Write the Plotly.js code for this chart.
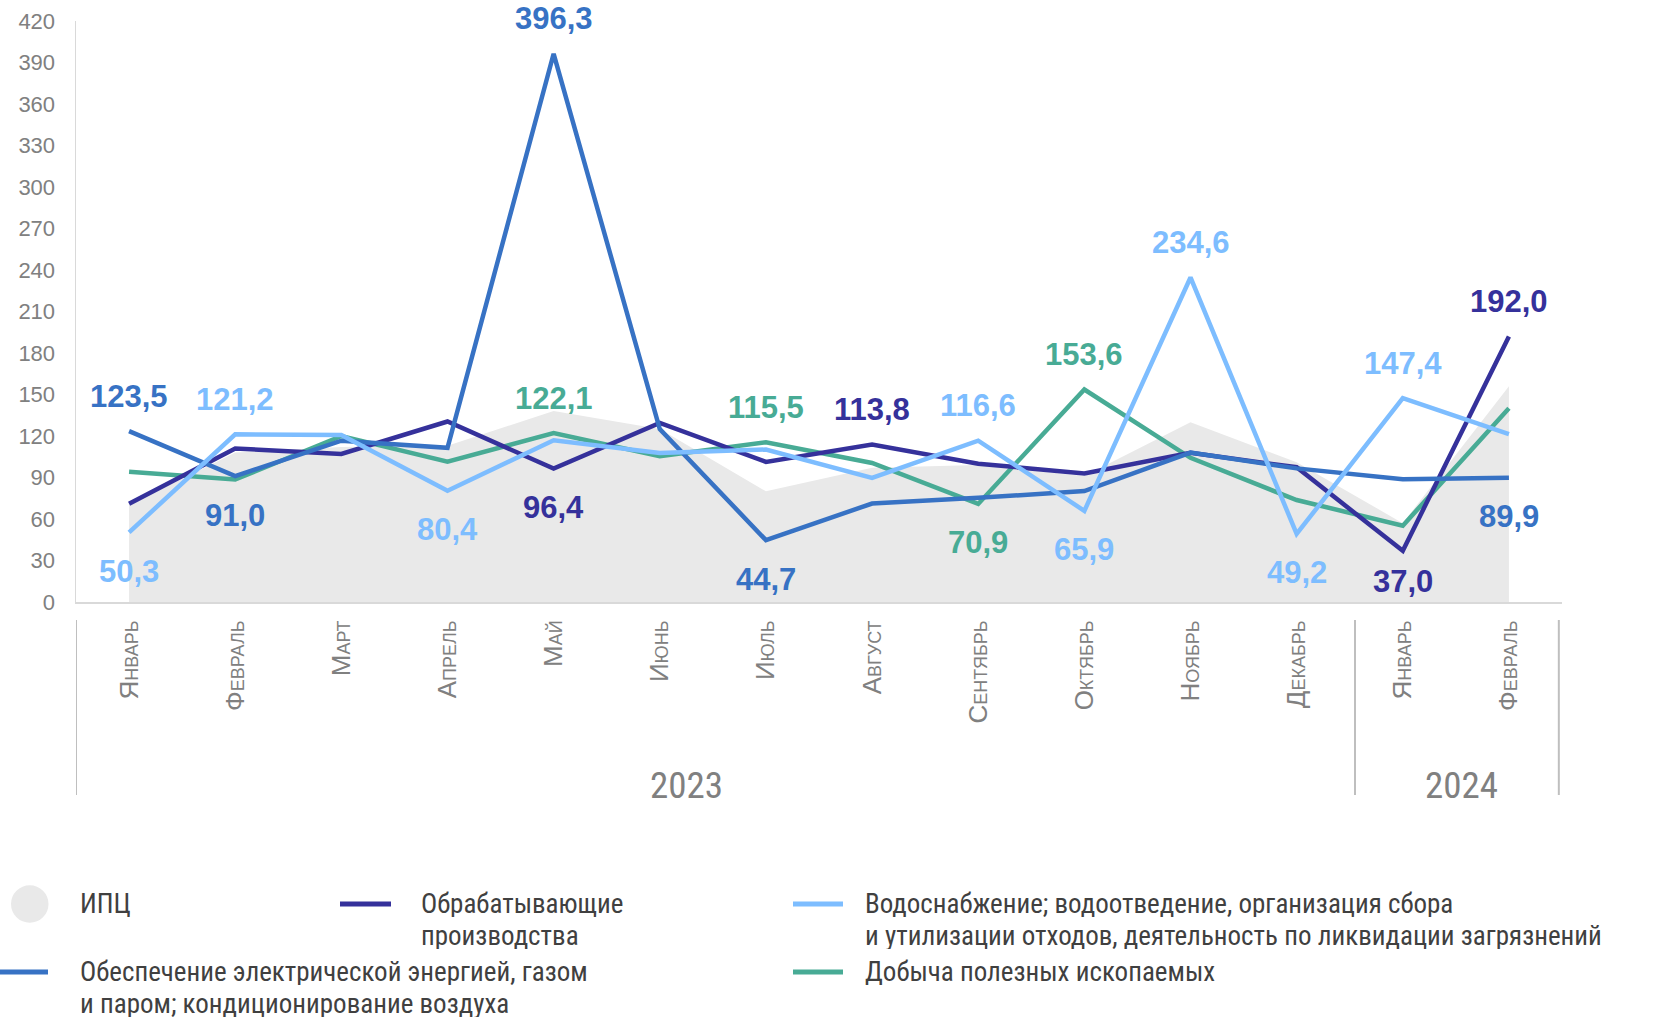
<!DOCTYPE html>
<html>
<head>
<meta charset="utf-8">
<script src="https://cdn.plot.ly/plotly-3.0.1.min.js"></script>
<style>
html,body{margin:0;padding:0;background:#ffffff;}
#chart{width:1657px;height:1021px;}
</style>
</head>
<body>
<div id="chart"></div>
<script>
// ---------- DATA ----------
const months = ['Январь','Февраль','Март','Апрель','Май','Июнь','Июль','Август','Сентябрь','Октябрь','Ноябрь','Декабрь','Январь','Февраль'];
const years = ['2023','2023','2023','2023','2023','2023','2023','2023','2023','2023','2023','2023','2024','2024'];
const yearGroups = ['2023','2024'];

const cpi    = [70, 108, 112, 113, 138, 125, 80, 97, 99, 91, 130, 101, 57, 156];
const manuf  = [71.0, 111.0, 107.0, 130.5, 96.4, 129.4, 101.3, 113.8, 100.0, 92.9, 107.8, 97.4, 37.0, 192.0];
const water  = [50.3, 121.2, 120.7, 80.4, 116.9, 107.8, 110.2, 89.7, 116.6, 65.9, 234.6, 49.2, 147.4, 121.4];
const elec   = [123.5, 91.0, 116.6, 111.5, 396.3, 125.0, 44.7, 71.2, 75.3, 80.2, 108.0, 96.6, 88.7, 89.9];
const mining = [94.2, 88.5, 120.0, 101.4, 122.1, 105.4, 115.5, 100.5, 70.9, 153.6, 104.2, 73.7, 55.2, 140.0];

const seriesNames = {
  cpi: 'ИПЦ',
  manuf: 'Обрабатывающие производства',
  water: 'Водоснабжение; водоотведение, организация сбора и утилизации отходов, деятельность по ликвидации загрязнений',
  elec: 'Обеспечение электрической энергией, газом и паром; кондиционирование воздуха',
  mining: 'Добыча полезных ископаемых'
};

// which points carry a value label ('u' = above, 'd' = below)
const manufLabels  = {4:'d', 7:'u', 12:'d', 13:'u'};
const waterLabels  = {0:'d', 1:'u', 3:'d', 8:'u', 9:'d', 10:'u', 11:'d', 12:'u'};
const elecLabels   = {0:'u', 1:'d', 4:'u', 6:'d', 13:'d'};
const miningLabels = {4:'u', 6:'u', 8:'d', 9:'u'};

// ---------- STYLE ----------
const C = {
  cpi: '#e9e9e9',
  manuf: '#35319b',
  water: '#7dbdff',
  elec: '#3772c4',
  mining: '#48ab95',
  grey: '#808080',
  text: '#404040',
  axis: '#d9d9d9'
};
const FONT = 'Liberation Sans, Arial, sans-serif';
const NARROW = 'Liberation Sans Narrow, Arial Narrow, Roboto Condensed, DejaVu Sans Condensed, sans-serif';

const xs = months.map((m, i) => i);

const traces = [
  {x: xs, y: cpi, type: 'scatter', mode: 'lines', fill: 'tozeroy', fillcolor: C.cpi,
   line: {width: 0, color: C.cpi}, name: seriesNames.cpi, showlegend: false, hoverinfo: 'skip'},
  {x: xs, y: mining, type: 'scatter', mode: 'lines', line: {width: 4.5, color: C.mining}, name: seriesNames.mining, showlegend: false},
  {x: xs, y: manuf, type: 'scatter', mode: 'lines', line: {width: 4.5, color: C.manuf}, name: seriesNames.manuf, showlegend: false},
  {x: xs, y: elec, type: 'scatter', mode: 'lines', line: {width: 4.5, color: C.elec}, name: seriesNames.elec, showlegend: false},
  {x: xs, y: water, type: 'scatter', mode: 'lines', line: {width: 4.5, color: C.water}, name: seriesNames.water, showlegend: false}
];

const fmt = v => v.toFixed(1).replace('.', ',');
const annotations = [];
function addLabels(vals, labels, color) {
  Object.keys(labels).forEach(k => {
    const i = +k;
    const up = labels[k] === 'u';
    let shift = up ? 35 : -39;
    if (!up && vals[i] < 40) shift = -31;
    annotations.push({
      x: i, y: vals[i], xref: 'x', yref: 'y', text: fmt(vals[i]), showarrow: false,
      xanchor: 'center', yanchor: 'middle', yshift: shift,
      font: {family: FONT, size: 31, color: color, weight: 'bold'}
    });
  });
}
addLabels(manuf, manufLabels, C.manuf);
addLabels(water, waterLabels, C.water);
addLabels(elec, elecLabels, C.elec);
addLabels(mining, miningLabels, C.mining);

// ---------- GEOMETRY (pixel helpers for legend/decoration) ----------
const W = 1657, H = 1021;
const M = {l: 76, r: 95, t: 21, b: 419};
const PW = W - M.l - M.r, PH = H - M.t - M.b;
const px = X => (X - M.l) / PW;
const py = Y => (H - M.b - Y) / PH;

// year group labels and dividers
const groupCenters = {'2023': 5.25, '2024': 12.55};
yearGroups.forEach(yr => {
  annotations.push({
    x: groupCenters[yr], xref: 'x', y: py(785), yref: 'paper', text: yr, showarrow: false,
    xanchor: 'center', yanchor: 'middle', font: {family: NARROW, size: 37, color: C.grey}
  });
});
const shapes = [];
const firstIdx = {}; const lastIdx = {};
years.forEach((y, i) => { if (!(y in firstIdx)) firstIdx[y] = i; lastIdx[y] = i; });
const dividers = [firstIdx['2023'] - 0.5, lastIdx['2023'] + 0.55, lastIdx['2024'] + 0.47];
dividers.forEach(d => {
  shapes.push({type: 'line', xref: 'x', yref: 'paper', x0: d, x1: d, y0: py(620), y1: py(795),
               line: {color: '#bfbfbf', width: 2}});
});

// ---------- LEGEND (drawn manually) ----------
const ROW1 = 904, ROW1B = 936, ROW2 = 972, ROW2B = 1004;
shapes.push({type: 'circle', xref: 'paper', yref: 'paper', x0: px(11), x1: px(48.5), y0: py(ROW1 - 18.75), y1: py(ROW1 + 18.75),
             fillcolor: C.cpi, line: {width: 0}});
function legLine(x0, x1, y, color) {
  shapes.push({type: 'line', xref: 'paper', yref: 'paper', x0: px(x0), x1: px(x1), y0: py(y), y1: py(y),
               line: {color: color, width: 5}});
}
legLine(340, 391, ROW1, C.manuf);
legLine(793, 843, ROW1, C.water);
legLine(0, 48, ROW2, C.elec);
legLine(793, 843, ROW2, C.mining);
function legText(X, Y, t) {
  annotations.push({x: px(X), y: py(Y), xref: 'paper', yref: 'paper', text: t, showarrow: false,
    xanchor: 'left', yanchor: 'middle', align: 'left', valign: 'middle', height: 26, borderpad: 0,
    font: {family: NARROW, size: 27, color: C.text}});
}
legText(79, ROW1, 'ИПЦ');
legText(420, ROW1, 'Обрабатывающие');
legText(420, ROW1B, 'производства');
legText(864, ROW1, 'Водоснабжение; водоотведение, организация сбора');
legText(864, ROW1B, 'и утилизации отходов, деятельность по ликвидации загрязнений');
legText(79, ROW2, 'Обеспечение электрической энергией, газом');
legText(79, ROW2B, 'и паром; кондиционирование воздуха');
legText(864, ROW2, 'Добыча полезных ископаемых');

const layout = {
  width: W, height: H,
  margin: M,
  paper_bgcolor: '#ffffff', plot_bgcolor: '#ffffff',
  showlegend: false,
  xaxis: {
    range: [-0.5, months.length - 0.5], tickmode: 'array', tickvals: xs, ticktext: months,
    tickangle: -90, ticks: '', showgrid: false, zeroline: false,
    showline: true, linecolor: C.axis, linewidth: 2,
    ticklabelstandoff: 6,
    tickfont: {family: FONT, size: 26, color: C.grey, variant: 'small-caps'}
  },
  yaxis: {
    range: [0, 420], dtick: 30, tick0: 0, ticks: '', showgrid: false, zeroline: false,
    showline: true, linecolor: C.axis, linewidth: 1.5,
    ticklabelstandoff: 15,
    tickfont: {family: FONT, size: 22, color: C.grey}
  },
  annotations: annotations,
  shapes: shapes
};

Plotly.newPlot('chart', traces, layout, {displayModeBar: false, staticPlot: true});
</script>
</body>
</html>
